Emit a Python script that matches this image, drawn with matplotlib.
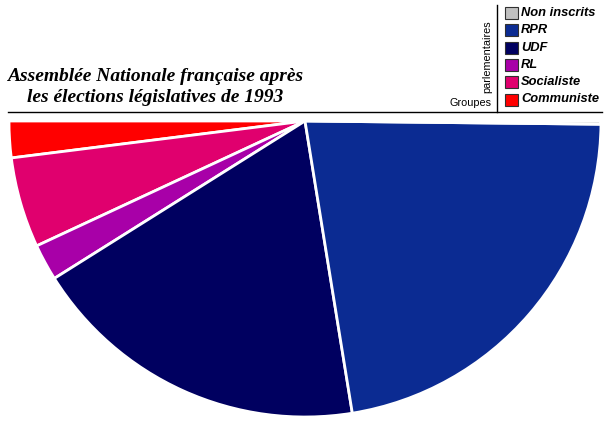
import matplotlib
matplotlib.use("Agg")
import matplotlib.pyplot as plt
from matplotlib.patches import Rectangle

# groupes, sieges (1993)
groupes = ["Communiste", "Socialiste", "RL", "UDF", "RPR", "Non inscrits"]
sieges = [23, 57, 23, 215, 257, 2]
couleurs = ["#ff0000", "#e0006e", "#a800a8", "#000060", "#0b2b92", "#c0c0c0"]

legende_ordre = ["Non inscrits", "RPR", "UDF", "RL", "Socialiste", "Communiste"]

W, H = 610, 424
fig = plt.figure(figsize=(W / 100, H / 100), dpi=100)
ax = fig.add_axes([0, 0, 1, 1])

total = sum(sieges)
fractions = [s / total / 2 for s in sieges]
ax.pie(fractions, colors=couleurs, normalize=False, startangle=180,
       center=(305, H - 121), radius=296,
       wedgeprops=dict(edgecolor="white", linewidth=2))

ax.set_xlim(0, W)
ax.set_ylim(0, H)
ax.set_aspect("equal")
ax.axis("off")

# titre
ax.text(155, H - 81, "Assemblée Nationale française après", ha="center", va="baseline",
        family="Liberation Serif", weight="bold", style="italic", fontsize=14)
ax.text(155, H - 102, "les élections législatives de 1993", ha="center", va="baseline",
        family="Liberation Serif", weight="bold", style="italic", fontsize=14)

# lignes
ax.plot([8, 602], [H - 112, H - 112], color="black", lw=1)
ax.plot([497, 497], [H - 5, H - 112], color="black", lw=1)

ax.text(470, H - 103, "Groupes", ha="center", va="center", family="Liberation Sans", fontsize=7.8)
ax.text(487, H - 57, "parlementaires", ha="center", va="center", rotation=90,
        family="Liberation Sans", fontsize=7.8)

# legende
for i, nom in enumerate(legende_ordre):
    c = couleurs[groupes.index(nom)]
    y = H - (13 + i * 17.3)
    ax.add_patch(Rectangle((505, y - 6), 12.5, 12, facecolor=c, edgecolor="#303030", lw=0.8))
    ax.text(521, y, nom, ha="left", va="center", family="Liberation Sans",
            weight="bold", style="italic", fontsize=9.3)

fig.savefig("out.png", dpi=100)
